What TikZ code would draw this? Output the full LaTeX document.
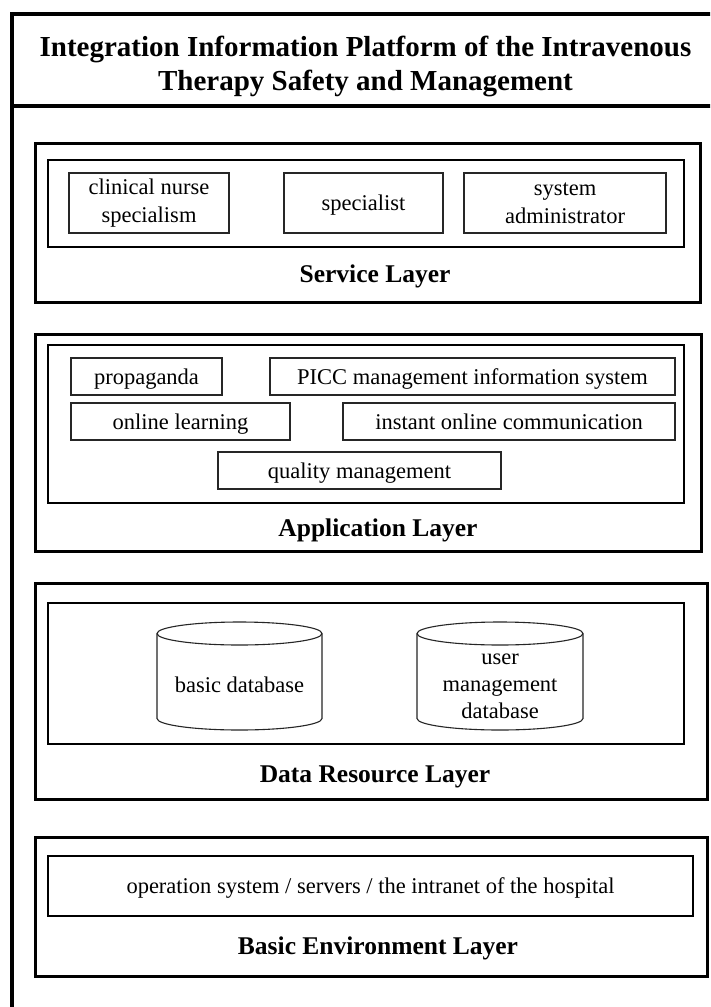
\documentclass[tikz,border=0pt]{standalone}
\usepackage{fontspec}
\setmainfont{Liberation Serif}
\begin{document}
\begin{tikzpicture}[x=1pt,y=-1pt,
  frameline/.style={line width=4.5pt},
  layerbox/.style={draw, line width=3pt, inner sep=0pt, rectangle},
  innerbox/.style={draw, line width=1.4pt, inner sep=0pt, rectangle},
  itembox/.style={draw=black!85, line width=1.1pt, inner sep=0pt, rectangle,
    font=\fontsize{22.5}{28}\selectfont, text height=19pt, text depth=4pt},
  itembox2/.style={draw=black!85, line width=1.1pt, inner sep=0pt, rectangle, align=center,
    font=\fontsize{22.5}{28}\selectfont},
  layerlabel/.style={font=\fontsize{25.5}{30}\selectfont\bfseries, inner sep=0pt},
  titletext/.style={font=\fontsize{29}{34}\selectfont\bfseries, align=center, inner sep=0pt},
  dbtext/.style={font=\fontsize{22.5}{27}\selectfont, align=center, inner sep=0pt},
  dbline/.style={line width=1.1pt, draw=black!85}
]
\useasboundingbox (0,0) rectangle (710,1007);
\clip (0,0) rectangle (710,1007);
\fill[white] (0,0) rectangle (710,1007);

% outer frame
\draw[frameline] (12,14) rectangle (760,1060);
\draw[frameline] (12,106) -- (760,106);
\node[titletext] (title) at (365.5,66) {Integration Information Platform of the Intravenous\\Therapy Safety and Management};

% Service layer
\node[layerbox, minimum width=665, minimum height=159] (svc) at (367.5,222.5) {};
\node[innerbox, minimum width=636, minimum height=87] (svcin) at (366,203.5) {};
\node[itembox2, minimum width=160, minimum height=60] (cns) at (149,203) {clinical nurse\\specialism};
\node[itembox, minimum width=159, minimum height=60] (spec) at (363.5,203) {specialist};
\node[itembox2, minimum width=202, minimum height=60] (sysadm) at (565,203) {system\\administrator};
\node[layerlabel] (svclbl) at (375,276) {Service Layer};

% Application layer
\node[layerbox, minimum width=666, minimum height=217] (app) at (368,442.5) {};
\node[innerbox, minimum width=636, minimum height=158] (appin) at (366,424) {};
\node[itembox, minimum width=151, minimum height=37] (prop) at (146.5,376.5) {propaganda};
\node[itembox, minimum width=405, minimum height=37] (picc) at (472.5,376.5) {PICC management information system};
\node[itembox, minimum width=219, minimum height=37] (olearn) at (180.5,421.5) {online learning};
\node[itembox, minimum width=332, minimum height=37] (icomm) at (509,421.5) {instant online communication};
\node[itembox, minimum width=283, minimum height=37] (qual) at (359.5,470.5) {quality management};
\node[layerlabel] (applbl) at (378,530) {Application Layer};

% Data resource layer
\node[layerbox, minimum width=672, minimum height=216] (data) at (371,691) {};
\node[innerbox, minimum width=636, minimum height=141] (datain) at (366,673.5) {};
% cylinder 1
\draw[dbline] (157,633.5) -- (157,718.5) arc[start angle=180, end angle=0, x radius=82.5, y radius=11.5] -- (322,633.5);
\draw[dbline] (239.5,633.5) ellipse [x radius=82.5, y radius=11.5];
\node[dbtext] (basicdb) at (239.5,685) {basic database};
% cylinder 2
\draw[dbline] (417,633.5) -- (417,718.5) arc[start angle=180, end angle=0, x radius=83, y radius=11.5] -- (583,633.5);
\draw[dbline] (500,633.5) ellipse [x radius=83, y radius=11.5];
\node[dbtext] (userdb) at (500,686) {user\\management\\database};
\node[layerlabel] (datalbl) at (375,777) {Data Resource Layer};

% Basic environment layer
\node[layerbox, minimum width=672, minimum height=139] (env) at (371,906.5) {};
\node[itembox, draw=black, line width=1.4pt, minimum width=645, minimum height=60] (envin) at (370.5,886) {operation system / servers / the intranet of the hospital};
\node[layerlabel] (envlbl) at (378,948) {Basic Environment Layer};
\end{tikzpicture}
\end{document}
